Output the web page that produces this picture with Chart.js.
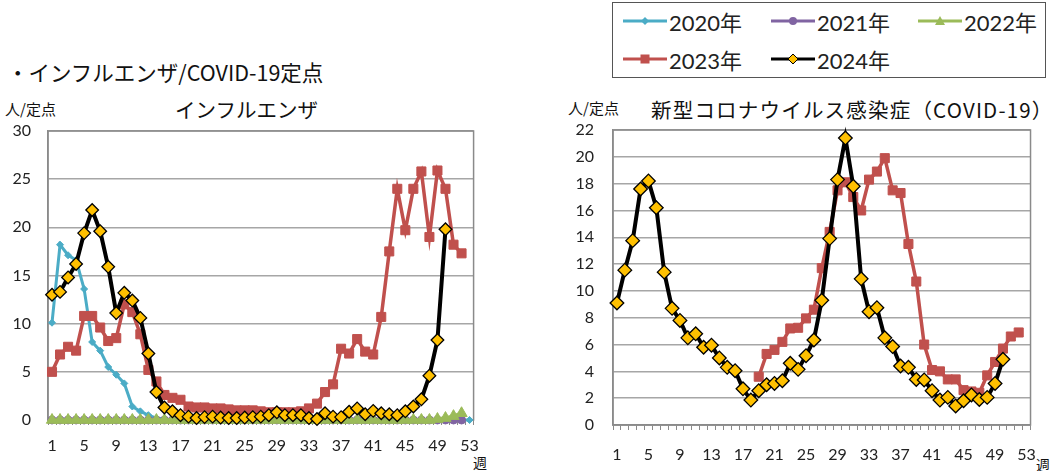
<!DOCTYPE html>
<html lang="ja">
<head>
<meta charset="utf-8">
<title>インフルエンザ/COVID-19定点</title>
<script src="https://cdn.jsdelivr.net/npm/chart.js@4.4.1/dist/chart.umd.min.js"></script>
<style>
  html, body { margin: 0; padding: 0; background: #fff; }
  body { width: 1051px; height: 471px; position: relative; overflow: hidden;
         font-family: "Noto Sans CJK JP", "Noto Sans", sans-serif; color: #111; }
  .txt { position: absolute; white-space: nowrap; line-height: 1; }
  canvas { position: absolute; }
  #legend { position: absolute; left: 612px; top: 2px; width: 434px; height: 76px;
            border: 1.5px solid #555; box-sizing: border-box; }
  .item { position: absolute; display: flex; align-items: center; height: 30px;
          font-family: "Lato", "Noto Sans CJK JP", sans-serif; font-size: 22px; color: #222; }
  .item svg { margin-right: 2px; }
</style>
</head>
<body>

<div class="txt" style="left:7px;top:61px;font-size:21.5px;">・インフルエンザ/COVID-19定点</div>

<div class="txt" style="left:5px;top:101px;font-size:15px;">人/定点</div>
<div class="txt" style="left:175px;top:99px;font-size:20.5px;">インフルエンザ</div>
<div class="txt" style="left:473px;top:455px;font-size:14px;">週</div>

<div class="txt" style="left:568px;top:100px;font-size:15px;">人/定点</div>
<div class="txt" style="left:651px;top:99px;font-size:20.5px;letter-spacing:1.2px;">新型コロナウイルス感染症（COVID-19）</div>
<div class="txt" style="left:1036px;top:457px;font-size:14px;">週</div>

<div id="legend"></div>

<canvas id="flu" width="490" height="371" style="left:0;top:100px;width:490px;height:371px;"></canvas>
<canvas id="covid" width="496" height="371" style="left:555px;top:100px;width:496px;height:371px;"></canvas>

<script>
// Week numbers along the category axis
const weeks = [1, 2, 3, 4, 5, 6, 7, 8, 9, 10, 11, 12, 13, 14, 15, 16, 17, 18, 19, 20,
  21, 22, 23, 24, 25, 26, 27, 28, 29, 30, 31, 32, 33, 34, 35, 36, 37, 38, 39, 40,
  41, 42, 43, 44, 45, 46, 47, 48, 49, 50, 51, 52, 53];

// Influenza: patients per sentinel site, by year
const flu2020 = [10.1, 18.2, 17.1, 16.6, 13.6, 8.1, 7.2, 5.5, 4.7, 3.8,
  1.4, 0.9, 0.5, 0.2, 0.1, 0, 0, 0, 0, 0,
  0, 0, 0, 0, 0, 0, 0, 0, 0, 0,
  0, 0, 0, 0, 0, 0, 0, 0, 0, 0,
  0, 0, 0, 0, 0, 0, 0, 0, 0, 0,
  0, 0, 0];
const flu2021 = [0, 0, 0, 0, 0, 0, 0, 0, 0, 0,
  0, 0, 0, 0, 0, 0, 0, 0, 0, 0,
  0, 0, 0, 0, 0, 0, 0, 0, 0, 0,
  0, 0, 0, 0, 0, 0, 0, 0, 0, 0,
  0, 0, 0, 0, 0, 0, 0, 0, 0, 0,
  0, 0, null];
const flu2022 = [0, 0, 0, 0, 0, 0, 0, 0, 0, 0,
  0, 0, 0, 0, 0, 0, 0, 0, 0, 0,
  0, 0, 0, 0, 0, 0, 0, 0, 0, 0,
  0, 0, 0, 0, 0, 0, 0, 0, 0, 0,
  0, 0, 0, 0, 0, 0, 0, 0, 0.1, 0.2,
  0.4, 0.7, null];
const flu2023 = [5.0, 6.8, 7.6, 7.2, 10.8, 10.8, 9.6, 8.2, 8.5, 12.0,
  11.2, 8.9, 5.2, 4.0, 2.6, 2.3, 2.1, 1.4, 1.3, 1.3,
  1.2, 1.2, 1.1, 1.0, 1.0, 1.0, 0.9, 0.8, 0.8, 0.8,
  0.8, 0.9, 1.2, 1.7, 2.9, 3.7, 7.4, 6.9, 8.4, 7.1,
  6.8, 10.7, 17.5, 24.0, 19.7, 24.0, 25.8, 19.0, 25.9, 24.0,
  18.2, 17.3, null];
const flu2024 = [13.0, 13.3, 14.8, 16.2, 19.4, 21.8, 19.6, 15.9, 11.1, 13.2,
  12.4, 10.6, 6.9, 2.9, 1.3, 0.9, 0.5, 0.35, 0.2, 0.3,
  0.35, 0.25, 0.2, 0.2, 0.25, 0.3, 0.35, 0.5, 0.8, 0.5,
  0.5, 0.5, 0.2, 0.1, 0.7, 0.35, 0.3, 0.85, 1.2, 0.6,
  0.95, 0.7, 0.6, 0.5, 0.9, 1.4, 2.15, 4.6, 8.3, 19.8,
  null, null, null];

// COVID-19: patients per sentinel site (sentinel reporting from week 19 of 2023)
const covid2023 = [null, null, null, null, null, null, null, null, null, null,
  null, null, null, null, null, null, null, null, 3.6, 5.3,
  5.6, 6.2, 7.2, 7.25, 7.95, 8.6, 11.7, 14.4, 17.5, 18.1,
  17.0, 16.0, 18.3, 18.9, 19.9, 17.5, 17.3, 13.5, 10.7, 6.0,
  4.1, 4.0, 3.4, 3.4, 2.6, 2.5, 2.4, 3.7, 4.7, 5.7,
  6.6, 6.9, null];
const covid2024 = [9.1, 11.55, 13.75, 17.6, 18.2, 16.2, 11.4, 8.7, 7.8, 6.5,
  6.8, 5.8, 5.95, 5.0, 4.3, 4.05, 2.7, 1.86, 2.56, 3.0,
  3.1, 3.3, 4.6, 4.15, 5.17, 6.34, 9.3, 13.9, 18.3, 21.4,
  17.8, 10.9, 8.45, 8.75, 6.5, 5.85, 4.4, 4.3, 3.4, 3.36,
  2.56, 1.86, 2.06, 1.42, 1.81, 2.24, 1.9, 2.06, 3.1, 4.9,
  null, null, null];

const yearNames = ['2020年', '2021年', '2022年', '2023年', '2024年'];

// Series styles (colour, marker) per year
const STYLE = {
  '2020年': { color: '#4BACC6', fill: '#4BACC6', edge: '#4BACC6', point: 'rectRot', r: 3.5, w: 3 },
  '2021年': { color: '#8064A2', fill: '#8064A2', edge: '#8064A2', point: 'circle', r: 4, w: 3 },
  '2022年': { color: '#9BBB59', fill: '#9BBB59', edge: '#9BBB59', point: 'triangle', r: 6.5, w: 3.5 },
  '2023年': { color: '#C0504D', fill: '#C0504D', edge: '#C0504D', point: 'rect', r: 6.4, w: 3.5 },
  '2024年': { color: '#000000', fill: '#FFC000', edge: '#000000', point: 'rectRot', r: 6.3, w: 4 }
};

function series(name, values, order, rScale) {
  const s = STYLE[name];
  return {
    label: name,
    data: values,
    borderColor: s.color,
    backgroundColor: s.fill,
    borderWidth: s.w,
    pointStyle: s.point,
    pointRadius: s.r * (rScale || 1),
    pointBackgroundColor: s.fill,
    pointBorderColor: s.edge,
    pointBorderWidth: name === '2024年' ? 1.3 : 1,
    tension: 0,
    spanGaps: false,
    clip: false,
    order: order
  };
}

// Draws the plot-area frame beneath the series
const frame = {
  id: 'frame',
  beforeDatasetsDraw(chart) {
    const a = chart.chartArea, ctx = chart.ctx;
    ctx.save();
    ctx.strokeStyle = '#8a8a8a';
    ctx.lineWidth = 1.5;
    ctx.strokeRect(a.left, a.top, a.right - a.left, a.bottom - a.top);
    ctx.restore();
  }
};

const tickFont = { family: 'Lato, "Noto Sans", sans-serif', size: 16 };

function buildChart(id, datasets, yMax, yStep, box) {
  return new Chart(document.getElementById(id), {
    type: 'line',
    data: { labels: weeks, datasets: datasets },
    plugins: [frame],
    options: {
      responsive: false,
      animation: false,
      events: [],
      layout: { padding: { left: 0, top: box.top, right: box.right, bottom: 0 } },
      plugins: { legend: { display: false }, tooltip: { enabled: false }, title: { display: false } },
      scales: {
        x: {
          type: 'category',
          offset: true,
          grid: { display: true, drawOnChartArea: false, drawTicks: true, tickLength: 5,
                  offset: true, color: '#8a8a8a', lineWidth: 1 },
          border: { display: true, color: '#8a8a8a', width: 1.5 },
          ticks: {
            autoSkip: false, maxRotation: 0, minRotation: 0, padding: box.xPad,
            color: '#222', font: tickFont,
            callback(v, i) { return i % 4 === 0 ? String(weeks[i]) : ''; }
          },
          afterFit(scale) { scale.height = box.xH; }
        },
        y: {
          min: 0, max: yMax,
          grid: { color: '#a6a6a6', lineWidth: 1.5, drawTicks: false },
          border: { display: true, color: '#8a8a8a', width: 1.5 },
          ticks: { stepSize: yStep, padding: box.yPad, color: '#222', font: tickFont },
          afterFit(scale) { scale.width = box.yW; }
        }
      }
    }
  });
}

buildChart('flu', [
  series('2020年', flu2020, 5),
  series('2021年', flu2021, 4),
  series('2022年', flu2022, 3),
  series('2023年', flu2023, 2),
  series('2024年', flu2024, 1)
], 30, 5, { top: 31, right: 16, xH: 51, xPad: 11, yW: 48, yPad: 17 });

buildChart('covid', [
  series('2023年', covid2023, 2),
  series('2024年', covid2024, 1, 1.08)
], 22, 2, { top: 30, right: 14, xH: 46, xPad: 15, yW: 58, yPad: 19 });

// Shared legend
(function () {
  const pos = [[10, 3], [158, 3], [305, 3], [10, 41], [158, 41]];
  const legend = document.getElementById('legend');
  yearNames.forEach((name, i) => {
    const s = STYLE[name];
    const cx = 22, cy = 10;
    let mark = '';
    if (name === '2020年') mark = `<polygon points="${cx},${cy-4} ${cx+4},${cy} ${cx},${cy+4} ${cx-4},${cy}" fill="${s.fill}"/>`;
    if (name === '2021年') mark = `<circle cx="${cx}" cy="${cy}" r="4" fill="${s.fill}"/>`;
    if (name === '2022年') mark = `<polygon points="${cx},${cy-5} ${cx+5},${cy+4} ${cx-5},${cy+4}" fill="${s.fill}"/>`;
    if (name === '2023年') mark = `<rect x="${cx-4.5}" y="${cy-4.5}" width="9" height="9" fill="${s.fill}"/>`;
    if (name === '2024年') mark = `<polygon points="${cx},${cy-5} ${cx+5},${cy} ${cx},${cy+5} ${cx-5},${cy}" fill="${s.fill}" stroke="#000" stroke-width="1"/>`;
    const el = document.createElement('div');
    el.className = 'item';
    el.style.left = pos[i][0] + 'px';
    el.style.top = pos[i][1] + 'px';
    el.innerHTML = `<svg width="44" height="20"><line x1="0" y1="${cy}" x2="44" y2="${cy}" stroke="${s.color}" stroke-width="3"/>${mark}</svg><span>${name}</span>`;
    legend.appendChild(el);
  });
})();
</script>
</body>
</html>
